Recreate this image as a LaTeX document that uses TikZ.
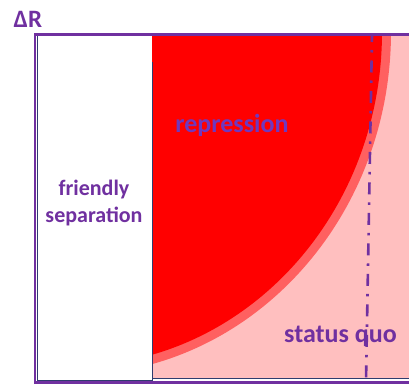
\documentclass[tikz,border=0pt]{standalone}
\usepackage{fontspec}
\setmainfont{Carlito}
\definecolor{frame}{RGB}{112,48,160}
\definecolor{navy}{RGB}{47,60,110}
\definecolor{deepred}{RGB}{255,0,0}
\definecolor{bandred}{RGB}{255,96,96}
\definecolor{pale}{RGB}{255,191,191}
\definecolor{replabel}{RGB}{112,56,190}

\begin{document}
\begin{tikzpicture}[
      x=1pt, y=-1pt,
      lbl/.style={font=\bfseries\fontsize{22}{27}\selectfont, text=frame,
                  align=center, inner sep=0pt},
      biglbl/.style={lbl, font=\bfseries\fontsize{26}{30}\selectfont},
      edge/.style={navy, line width=0.9pt},
      rim/.style={frame, line width=2.8pt},
      quoline/.style={frame, line width=2.6pt,
                      dash pattern=on 12pt off 8pt on 2.5pt off 8pt, dash phase=6pt},
    ]
    \useasboundingbox (0,0) rectangle (409,385);

    % ── regions ──
    \fill[white] (37,36) rectangle (152,380);
    \fill[pale] (152,36) rectangle (409,378.5);
    \begin{scope}
      \clip (152,36) rectangle (409,378.5);
      \fill[bandred] (72,32) ellipse [x radius=319pt, y radius=343pt];
      \fill[deepred] (72,32) ellipse [x radius=310pt, y radius=334pt];
    \end{scope}

    % ── inner borders ──
    \draw[edge] (37,36) -- (37,380.3) -- (152,380.3) -- (152,62);
    \draw[edge] (152,378.5) -- (409,378.5);

    % ── status quo line ──
    \coordinate (sqtop) at (372,36);
    \coordinate (sqbot) at (366,382);
    \draw[quoline] (sqtop) -- (sqbot);

    % ── axes frame ──
    \draw[rim] (409,34.8) -- (35,34.8) -- (35,382.5) -- (409,382.5);

    % ── labels ──
    \node[lbl, font=\bfseries\fontsize{25}{30}\selectfont, anchor=base] (dR) at (28,27.5) {ΔR};
    \node[lbl] (fs) at (94,203) {friendly\\separation};
    \node[biglbl, text=replabel, anchor=base] (repr) at (232,132) {repression};
    \node[biglbl, anchor=base] (sq) at (340.5,342) {status quo};
  \end{tikzpicture}
\end{document}
